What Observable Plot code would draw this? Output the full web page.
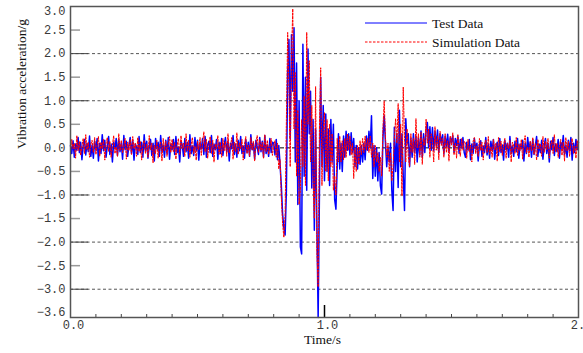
<!DOCTYPE html>
<html>
<head>
<meta charset="utf-8">
<script src="https://cdn.jsdelivr.net/npm/d3@7"></script>
<script src="https://cdn.jsdelivr.net/npm/@observablehq/plot@0.6"></script>
<style>
  html, body { margin: 0; padding: 0; background: #fff; }
  #wrap { position: relative; width: 583px; height: 353px; overflow: hidden; }
  #legend { position: absolute; left: 360px; top: 12px; }
</style>
</head>
<body>
<div id="wrap">
  <div id="chart"></div>
  <svg id="legend" width="200" height="44">
    <line x1="5" x2="67" y1="11" y2="11" stroke="#0000ff" stroke-width="1"></line>
    <text x="72" y="15.5" font-family="Liberation Serif" font-size="13.5" fill="#111">Test Data</text>
    <line x1="5" x2="67" y1="30" y2="30" stroke="#ff0000" stroke-width="1" stroke-dasharray="2.5,1.5"></line>
    <text x="72" y="34.5" font-family="Liberation Serif" font-size="13.5" fill="#111">Simulation Data</text>
  </svg>
</div>
<script>
// ---- sampling ----
const tStart = 0.0;
const tStep = 0.005; // seconds between samples

// ---- Test Data (blue), by segment ----
const testBase1 = [
  0.05,-0.12,0.15,-0.20,0.08,-0.05,0.22,-0.10,0.12,-0.25,0.05,0.18,-0.15,0.10,-0.08,0.25,-0.18,0.06,-0.22,0.14,
  -0.05,0.20,-0.28,0.10,-0.12,0.28,-0.06,0.16,-0.20,0.04,0.24,-0.14,0.08,-0.30,0.12,-0.02,0.20,-0.16,0.18,-0.08,
  0.10,-0.24,0.26,-0.04,0.14,-0.18,0.06,0.22,-0.12,0.16,-0.26,0.08,0.02,-0.14,0.24,-0.10,0.12,-0.20,0.28,-0.06,
  0.14,-0.22,0.04,0.18,-0.16,0.10,-0.28,0.20,-0.02,0.12,-0.18,0.26,-0.08,0.06,-0.20,0.16,-0.12,0.22,-0.24,0.08,
  -0.04,0.18,-0.14,0.24,-0.10,0.02,-0.30,0.14,0.06,-0.18,0.20,-0.08,0.12,-0.22,0.28,-0.12,0.04,-0.16,0.22,-0.06,
  0.16,-0.26,0.10,-0.02,0.20,-0.14,0.24,-0.20,0.06,0.14,-0.10,0.26,-0.18,0.08,-0.04,0.18,-0.24,0.12,-0.12,0.20,
  -0.16,0.06,0.22,-0.08,0.14,-0.28,0.10,-0.02,0.26,-0.14,0.08,-0.20,0.16,-0.06,0.24,-0.12,0.04,-0.22,0.18,-0.10,
  0.12,-0.18,0.28,-0.04,0.10,-0.24,0.16,0.02,-0.14,0.22,-0.08,0.14,-0.20,0.26,-0.12,0.06,-0.18,0.20,-0.10,0.12
];
const testBurst = [
  0.10,-0.15,0.18,-0.25,0.05,-0.35,-0.80,-1.40,-1.70,-1.85,
  -0.90,1.60,2.30,0.20,2.40,1.20,2.55,-0.30,1.80,-1.20,
  1.00,-2.10,-2.25,2.20,-0.60,1.50,-0.90,2.10,0.30,1.20,
  -0.85,0.60,-1.75,0.40,-1.60,-3.60,-1.00,1.50,-0.40,0.90,
  -0.70,0.72,-0.50,0.40,-0.80,0.60,-0.30,0.50,-1.10,-1.30,
  -0.40,0.30
];
const testPost = [
  -0.45,0.10,-0.50,0.25,-0.20,0.35,-0.05,0.30,-0.15,0.32,
  -0.10,0.20,-0.40,0.05,-0.45,0.00,-0.35,0.05,-0.30,0.10,
  -0.25,0.25,-0.05,0.35,0.00,0.68,-0.65,0.05,-0.60,0.00,
  -0.70,-0.10,-0.80,-0.98,0.20,0.68,0.10,-0.40,0.00,-0.30,
  0.10,-0.90,-1.33,0.44,-0.50,0.30,-0.84,0.80,-0.40,0.30,
  -0.60,-1.33,0.62,0.10,0.30,-0.40,0.20,-0.20,0.30,-0.10,
  0.25,-0.30,0.20,-0.15
];
const testDecay = [
  0.36,-0.20,0.30,-0.10,0.40,0.54,0.00,0.45,-0.05,0.43,-0.06,0.35,0.05,0.38,-0.10,0.30,0.10,0.28,-0.13,0.25,
  0.02,0.29,-0.08,0.22,0.12,0.26,-0.10,0.20,0.05,0.24,-0.12,0.18,0.00,0.22,-0.10
];
const testBase2 = [
  -0.20,0.12,-0.05,0.18,-0.25,0.08,-0.12,0.20,-0.02,0.10,-0.28,0.06,0.15,-0.18,0.04,-0.10,0.22,-0.15,0.08,-0.22,
  0.14,-0.06,0.18,-0.24,0.02,0.12,-0.16,0.20,-0.10,0.06,-0.26,0.16,-0.04,0.10,-0.20,0.24,-0.12,0.04,-0.18,0.14,
  -0.08,0.20,-0.22,0.08,-0.02,0.16,-0.28,0.10,-0.12,0.22,-0.06,0.12,-0.20,0.18,-0.14,0.04,0.24,-0.18,0.08,-0.10,
  0.16,-0.24,0.06,0.20,-0.12,0.10,-0.30,0.14,-0.04,0.22,-0.16,0.08,-0.08,0.18,-0.22,0.12,-0.02,0.26,-0.14,0.06,
  -0.20,0.16,-0.06,0.22,-0.26,0.10,-0.10,0.18,-0.04,0.12
];

// ---- Simulation Data (red dashed), by segment ----
const simBase1 = [
  -0.08,0.18,-0.02,0.10,-0.22,0.26,-0.06,0.14,-0.16,0.04,0.20,-0.12,0.28,-0.04,0.12,-0.20,0.08,0.16,-0.10,0.22,
  -0.14,0.06,0.24,-0.18,0.12,-0.02,0.18,-0.26,0.10,0.22,-0.08,0.14,-0.20,0.06,0.26,-0.12,0.02,-0.18,0.30,-0.06,
  0.16,-0.10,0.04,0.20,-0.24,0.12,-0.06,0.18,-0.14,0.24,-0.02,0.10,-0.18,0.22,-0.08,0.14,-0.26,0.06,0.16,-0.12,
  0.08,-0.20,0.26,-0.04,0.10,-0.32,0.06,-0.12,0.16,-0.22,0.04,0.12,-0.28,0.20,-0.06,0.14,-0.18,0.08,0.24,-0.10,
  0.18,-0.08,0.12,-0.24,0.06,0.20,-0.14,0.26,-0.02,0.10,-0.18,0.30,-0.06,0.16,-0.20,0.08,0.22,-0.12,0.04,-0.26,
  0.14,-0.04,0.22,-0.16,0.10,0.34,-0.08,0.18,-0.22,0.06,0.24,-0.12,0.16,-0.30,0.08,-0.02,0.26,-0.14,0.12,-0.20,
  0.20,-0.06,0.14,-0.18,0.30,-0.10,0.04,0.22,-0.24,0.12,-0.08,0.32,-0.14,0.10,-0.02,0.18,-0.26,0.08,0.24,-0.12,
  0.06,-0.18,0.22,-0.04,0.14,-0.28,0.10,0.26,-0.10,0.18,-0.06,0.12,-0.22,0.28,-0.08,0.16,-0.14,0.04,0.20,-0.16
];
const simBurst = [
  0.05,0.15,-0.20,0.10,-0.45,-0.25,-1.05,-1.60,-1.90,-1.40,
  0.60,2.45,1.20,-0.40,1.90,2.95,0.40,1.60,-0.60,0.80,
  -1.20,-0.90,0.60,-0.40,1.10,-0.80,2.45,0.50,1.85,-0.30,
  0.90,-0.70,-1.50,1.30,-2.20,-2.95,0.40,1.70,-0.80,0.40,
  0.75,-0.50,0.60,-0.70,0.50,-0.40,0.30,-0.90,-0.60,-1.00,
  0.20,-0.30
];
const simPost = [
  0.25,-0.30,0.15,-0.25,0.20,-0.20,0.30,-0.05,0.25,-0.15,
  0.10,-0.65,0.00,-0.50,0.05,-0.35,0.15,-0.15,0.20,-0.10,
  0.25,-0.05,0.20,-0.10,0.25,-0.20,0.10,-0.40,0.05,-0.30,
  -0.10,-0.50,-0.20,-0.60,0.40,1.00,0.20,-0.20,0.10,-0.50,
  -0.10,-0.70,-0.40,0.20,0.62,0.10,0.94,-0.30,0.50,-1.02,
  1.29,0.20,-0.30,0.40,-0.20,-0.40,0.30,-0.10,0.20,-0.35,
  0.62,0.00,0.30,-0.20
];
const simDecay = [
  0.33,-0.35,0.20,0.05,0.61,0.10,0.40,-0.20,0.30,0.15,-0.30,0.45,-0.05,0.25,-0.25,0.35,0.05,0.20,-0.20,0.30,
  -0.10,0.15,-0.28,0.25,0.05,0.32,-0.15,0.10,-0.22,0.28,0.00,-0.18,0.20,-0.05,0.14
];
const simBase2 = [
  0.10,-0.22,0.18,-0.08,0.06,-0.30,0.14,0.22,-0.12,0.04,-0.18,0.20,-0.06,0.12,-0.26,0.08,0.16,-0.10,0.24,-0.14,
  0.02,-0.20,0.18,-0.04,0.10,-0.28,0.22,-0.08,0.14,-0.16,0.06,0.20,-0.22,0.10,-0.02,0.16,-0.30,0.12,0.04,-0.12,
  0.22,-0.16,0.08,-0.06,0.18,-0.24,0.12,0.26,-0.10,0.02,-0.20,0.14,-0.06,0.22,-0.14,0.10,-0.26,0.18,-0.02,0.08,
  -0.18,0.24,-0.10,0.14,-0.04,0.20,-0.22,0.06,0.16,-0.12,0.28,-0.08,0.10,-0.20,0.04,0.18,-0.16,0.12,-0.28,0.22,
  -0.06,0.14,-0.18,0.08,0.20,-0.12,0.04,-0.22,0.16,-0.08
];

// ---- ticks / labels ----
const yTicksMid = [2.5,2.0,1.5,1.0,0.5,0.0,-0.5,-1.0,-1.5,-2.0,-2.5,-3.0];
const yTickTop = [3.0];
const yTickBottom = [-3.6];
const yGridLines = [2,1,-1,-2,-3];
const yZeroLine = [0];
const yHalfTicks = [2.5,1.5,0.5,-0.5,-1.5,-2.5];
const xTickLabels = [0,1,2];
const xMinorTicks = [0.1,0.2,0.3,0.4,0.5,0.6,0.7,0.8,0.9,1.1,1.2,1.3,1.4,1.5,1.6,1.7,1.8,1.9];
const xMajorMid = [1];
const xTitle = "Time/s";
const yTitle = "Vibration acceleration/g";

const toRows = (vals) => vals.map((v, i) => ({t: tStart + i * tStep, v}));
const testData = toRows([...testBase1, ...testBurst, ...testPost, ...testDecay, ...testBase2]);
const simData = toRows([...simBase1, ...simBurst, ...simPost, ...simDecay, ...simBase2]);

const W = 583, H = 353, mL = 70, mR = 5, mT = 6, mB = 36;
const innerW = W - mL - mR, innerH = H - mT - mB;
const fmt = d => d.toFixed(1).replace("-", "\u2212");
const axisFont = {fontFamily: "Liberation Mono", fontSize: 12, color: "#3a3a3a", label: null};

const chart = Plot.plot({
  width: W, height: H,
  marginLeft: mL, marginRight: mR, marginTop: mT, marginBottom: mB,
  style: {background: "#fff", overflow: "visible", fontFamily: "Liberation Mono", fontSize: "12px"},
  x: {domain: [0, 2], label: null},
  y: {domain: [-3.6, 3.0], label: null},
  marks: [
    Plot.ruleY(yGridLines, {stroke: "#555", strokeDasharray: "3,2.5"}),
    Plot.ruleY(yZeroLine, {stroke: "#000", strokeDasharray: "4,2"}),
    Plot.ruleY([...yGridLines, ...yZeroLine], {stroke: "#444", insetRight: innerW - 18}),
    Plot.ruleY(yHalfTicks, {stroke: "#999", strokeWidth: 1.5, insetRight: innerW - 10}),
    Plot.ruleX(xMinorTicks, {stroke: "#444", insetTop: innerH - 3}),
    Plot.line(testData, {x: "t", y: "v", stroke: "#0000ff", strokeWidth: 1.5}),
    Plot.line(simData, {x: "t", y: "v", stroke: "#ff0000", strokeWidth: 1, strokeDasharray: "2,1.5"}),
    Plot.ruleX(xMajorMid, {stroke: "#000", strokeWidth: 1.5, insetTop: innerH - 12}),
    Plot.frame({stroke: "#555", strokeWidth: 1.5}),
    Plot.axisY(yTicksMid, {tickSize: 0, tickPadding: 5, tickFormat: fmt, ...axisFont}),
    Plot.axisY(yTickTop, {tickSize: 0, tickPadding: 5, tickFormat: fmt, dy: 5, ...axisFont}),
    Plot.axisY(yTickBottom, {tickSize: 0, tickPadding: 5, tickFormat: fmt, dy: -5, ...axisFont}),
    Plot.axisX(xTickLabels, {tickSize: 0, tickPadding: 3, tickFormat: fmt, dx: 3, ...axisFont}),
    Plot.text([xTitle], {frameAnchor: "bottom", dy: 26, dx: -2, fontFamily: "Liberation Serif", fontSize: 13.5, fill: "#111"}),
    Plot.text([yTitle], {frameAnchor: "left", dx: -49, dy: -13, rotate: -90, fontFamily: "Liberation Serif", fontSize: 13.5, fill: "#111"})
  ]
});
document.getElementById("chart").appendChild(chart);
</script>
</body>
</html>
